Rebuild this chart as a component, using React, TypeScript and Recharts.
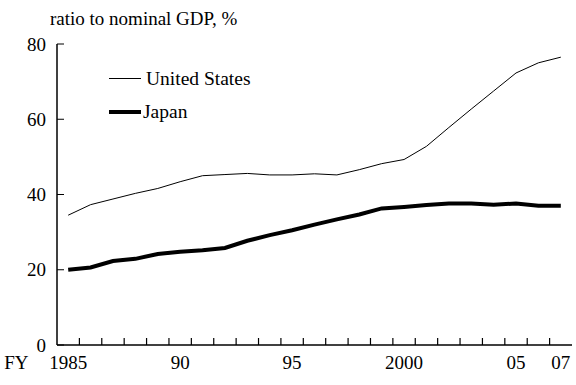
import { LineChart, Line, XAxis, YAxis } from "recharts";

const years = [
  1985, 1986, 1987, 1988, 1989, 1990, 1991, 1992, 1993, 1994, 1995, 1996,
  1997, 1998, 1999, 2000, 2001, 2002, 2003, 2004, 2005, 2006, 2007,
];

const unitedStates = [
  34.5, 37.3, 38.8, 40.3, 41.6, 43.4, 45.0, 45.3, 45.6, 45.2, 45.2, 45.5,
  45.2, 46.6, 48.2, 49.3, 52.8, 57.8, 62.7, 67.5, 72.3, 75.0, 76.5,
];

const japan = [
  20.0, 20.6, 22.3, 22.9, 24.2, 24.8, 25.2, 25.8, 27.7, 29.2, 30.5, 32.0,
  33.4, 34.7, 36.3, 36.7, 37.2, 37.6, 37.6, 37.3, 37.6, 37.0, 37.0,
];

const yTicks = [0, 20, 40, 60, 80];
const labelText: Record<number, string> = {
  1985: "1985",
  1990: "90",
  1995: "95",
  2000: "2000",
  2005: "05",
  2007: "07",
};
const labelYears = Object.keys(labelText).map(Number);
// tick marks sit between fiscal years, labels on the years themselves
const boundaryTicks = years.slice(0, -1).map((y) => y + 0.5);
const xTicks = [...labelYears, ...boundaryTicks].sort((a, b) => a - b);

const data = years.map((year, i) => ({
  year,
  us: unitedStates[i],
  japan: japan[i],
}));

const FONT = "Liberation Serif, Times New Roman, serif";

const YearTick = (props: any) => {
  const { x, y, payload } = props;
  const v = payload.value;
  if (!Number.isInteger(v)) {
    return (
      <g>
        <path d={`M${x},${y}V${y - 7}`} stroke="#000" strokeWidth={1.2} fill="none" />
      </g>
    );
  }
  return (
    <g>
      {v === 1985 && (
        <text x={x - 64} y={y + 11} dy="0.71em" fontSize={19} fontFamily={FONT} fill="#000">
          FY
        </text>
      )}
      <text x={x} y={y + 11} dy="0.71em" textAnchor="middle" fontSize={19} fontFamily={FONT} fill="#000">
        {labelText[v]}
      </text>
    </g>
  );
};

export default function App() {
  return (
    <div style={{ position: "fixed", left: 0, top: 0, width: 576, height: 385, background: "#fff" }}>
      <div
        style={{
          position: "absolute",
          left: 50,
          top: 8,
          fontFamily: FONT,
          fontSize: 19,
          color: "#000",
          whiteSpace: "nowrap",
        }}
      >
        ratio to nominal GDP, %
      </div>
      <div
        style={{
          position: "absolute",
          left: 109,
          top: 62,
          fontFamily: FONT,
          fontSize: 19.5,
          color: "#000",
          lineHeight: "33px",
          zIndex: 2,
        }}
      >
        <div style={{ display: "flex", alignItems: "center" }}>
          <div style={{ width: 32, height: 1, background: "#000", marginRight: 5 }} />
          United States
        </div>
        <div style={{ display: "flex", alignItems: "center" }}>
          <div style={{ width: 32, height: 4, background: "#000", marginRight: 2 }} />
          Japan
        </div>
      </div>
      <LineChart
        width={576}
        height={385}
        data={data}
        margin={{ top: 44, right: 4, bottom: 0, left: 0 }}
      >
        <XAxis
          dataKey="year"
          type="number"
          domain={[1984.5, 2007.5]}
          ticks={xTicks}
          tick={<YearTick />}
          interval={0}
          height={40}
          axisLine={{ stroke: "#000", strokeWidth: 1.5 }}
          tickLine={false}
          tickSize={0}
          tickMargin={0}
          allowDataOverflow
        />
        <YAxis
          domain={[0, 80]}
          ticks={yTicks}
          width={57}
          tickSize={-7}
          tickMargin={18}
          axisLine={{ stroke: "#000", strokeWidth: 1.5 }}
          tickLine={{ stroke: "#000" }}
          tick={{ fill: "#000", fontSize: 19, fontFamily: FONT }}
        />
        <Line
          dataKey="us"
          type="linear"
          stroke="#000"
          strokeWidth={1}
          dot={false}
          isAnimationActive={false}
        />
        <Line
          dataKey="japan"
          type="linear"
          stroke="#000"
          strokeWidth={4}
          dot={false}
          isAnimationActive={false}
        />
      </LineChart>
    </div>
  );
}
